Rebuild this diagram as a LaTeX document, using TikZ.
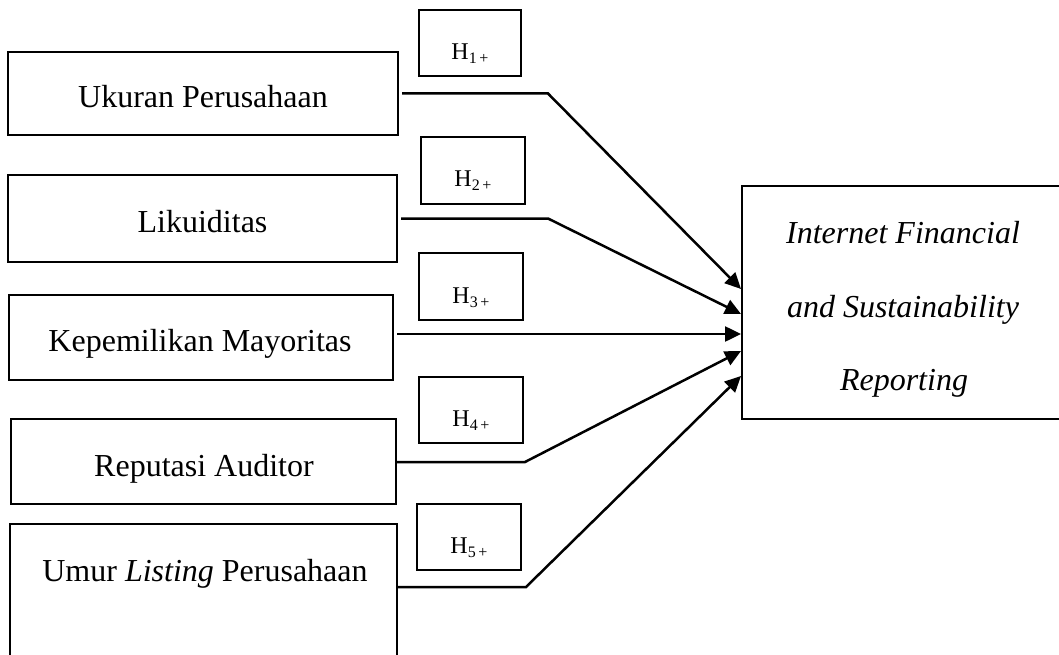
\documentclass[tikz,border=0pt]{standalone}
\usepackage{fontspec}
\setmainfont{Liberation Serif}
\usetikzlibrary{arrows.meta,calc}
\begin{document}
\begin{tikzpicture}[x=1pt,y=-1pt,
  box/.style={draw,line width=2pt,inner sep=0pt},
  txt/.style={inner sep=0pt,anchor=base,font=\fontsize{32}{38}\selectfont},
  hyp/.style={inner sep=0pt,anchor=base,font=\fontsize{24}{28}\selectfont},
  conn/.style={line width=2.5pt,-{Triangle[length=16pt,width=15pt]}}
]
\useasboundingbox (0,0) rectangle (1059,655);
\newcommand{\hsub}[1]{H\raisebox{-4pt}{\fontsize{16}{16}\selectfont #1\,+}}
% variable boxes
\node[box,minimum width=390pt,minimum height=83pt] (b1) at (203,93.5) {};
\node[box,minimum width=389pt,minimum height=87pt] (b2) at (202.5,218.5) {};
\node[box,minimum width=384pt,minimum height=85pt] (b3) at (201,337.5) {};
\node[box,minimum width=385pt,minimum height=85pt] (b4) at (203.5,461.5) {};
\node[box,minimum width=387pt,minimum height=176pt] (b5) at (203.5,612) {};
\node[txt] (l1) at (203,108) {Ukuran Perusahaan};
\node[txt] (l2) at (202.5,232) {Likuiditas};
\node[txt] (l3) at (200,351) {Kepemilikan Mayoritas};
\node[txt] (l4) at (204,476) {Reputasi Auditor};
\node[txt] (l5) at (205,581) {Umur \textit{Listing} Perusahaan};
% hypothesis boxes
\node[box,minimum width=102pt,minimum height=66pt] (h1) at (470,43) {};
\node[box,minimum width=104pt,minimum height=67pt] (h2) at (473,170.5) {};
\node[box,minimum width=104pt,minimum height=67pt] (h3) at (471,286.5) {};
\node[box,minimum width=104pt,minimum height=66pt] (h4) at (471,410) {};
\node[box,minimum width=104pt,minimum height=66pt] (h5) at (469,537) {};
\node[hyp] (hl1) at (470,60) {\hsub{1}};
\node[hyp] (hl2) at (473,186) {\hsub{2}};
\node[hyp] (hl3) at (471,303) {\hsub{3}};
\node[hyp] (hl4) at (471,426) {\hsub{4}};
\node[hyp] (hl5) at (469,553) {\hsub{5}};
% target
\node[box,minimum width=358pt,minimum height=233pt] (T) at (921,302.5) {};
\node[txt] (tl1) at (903,243) {\textit{Internet Financial}};
\node[txt] (tl2) at (903,317) {\textit{and Sustainability}};
\node[txt] (tl3) at (904,390) {\textit{Reporting}};
% arrow end points
\coordinate (t1) at ($(T.north west)+(0,104)$);
\coordinate (t2) at ($(T.north west)+(0,129)$);
\coordinate (t3) at ($(T.north west)+(0,149)$);
\coordinate (t4) at ($(T.north west)+(0,166)$);
\coordinate (t5) at ($(T.north west)+(0,191)$);
\coordinate (s5) at ($(b5.north east)+(0,64)$);
% connectors
\draw[conn] ($(b1.east)+(3,0)$) -- ++(146,0) -- (t1);
\draw[conn] ($(b2.east)+(3,0)$) -- ++(147,0) -- (t2);
\draw[conn] ($(b3.east |- t3)+(3,0)$) -- (t3);
\draw[conn] ($(b4.east)+(0,0.5)$) -- ++(128,0) -- (t4);
\draw[conn] (s5) -- ++(128,0) -- (t5);
\end{tikzpicture}
\end{document}
